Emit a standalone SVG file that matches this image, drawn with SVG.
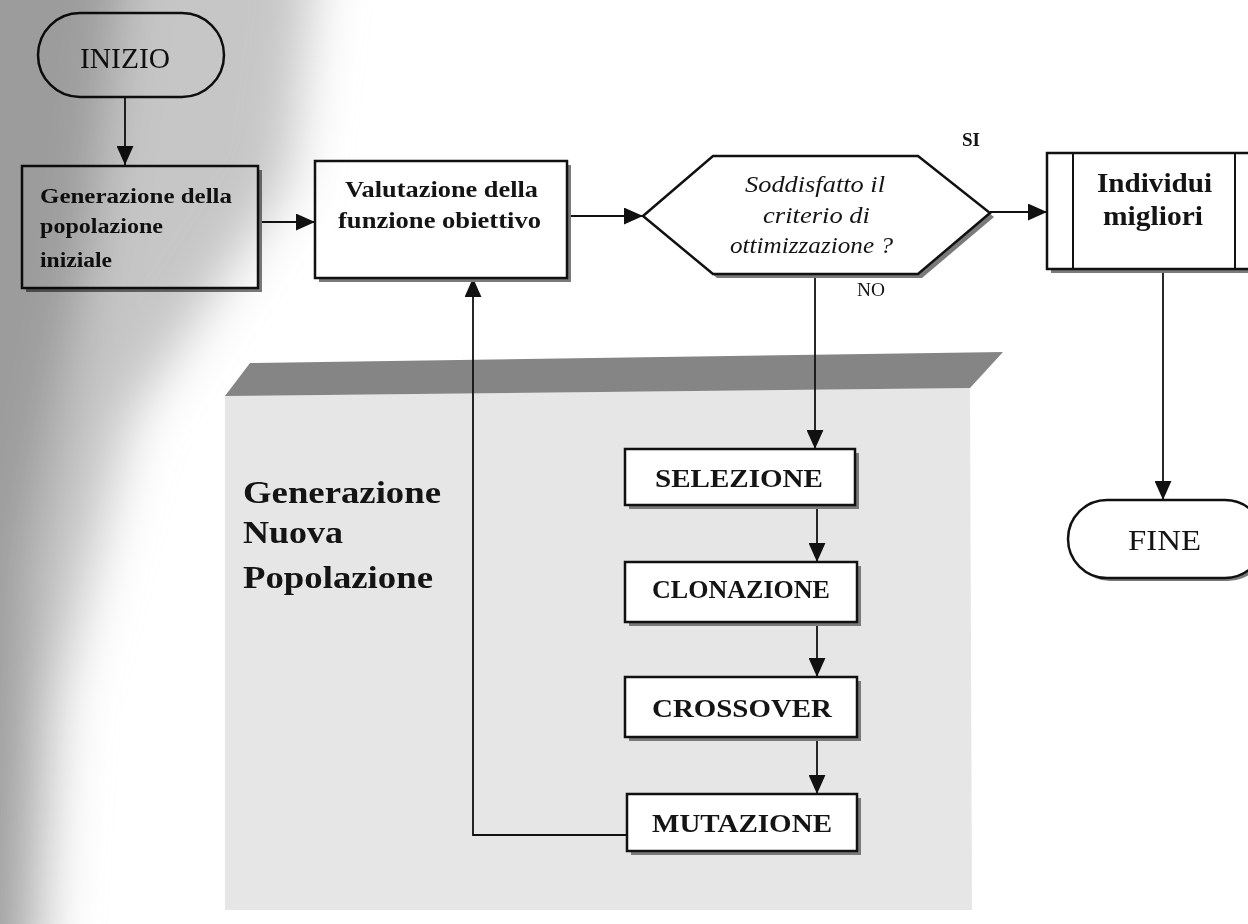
<svg xmlns="http://www.w3.org/2000/svg" width="1248" height="924" viewBox="0 0 1248 924">
  <style>
    .box { fill: #ffffff; stroke: #111111; stroke-width: 2.5; }
    .shadow { fill: #7a7a7a; }
    .conn { fill: none; stroke: #111111; stroke-width: 1.8; }
    .t { font-family: "Liberation Serif", "Times New Roman", serif; fill: #141414; }
    .b { font-weight: bold; }
    .i { font-style: italic; }
  </style>
  <defs>
    <marker id="arrow" viewBox="0 0 18 16" refX="18" refY="8" markerWidth="19" markerHeight="17" markerUnits="userSpaceOnUse" orient="auto">
      <path d="M0,0 L18,8 L0,16 z" fill="#111111"/>
    </marker>
    <filter id="soft" filterUnits="userSpaceOnUse" x="-200" y="-200" width="700" height="1350">
      <feGaussianBlur stdDeviation="26"/>
    </filter>
  </defs>

  <rect width="1248" height="924" fill="#ffffff"/>

  <!-- shaded panel: "Generazione Nuova Popolazione" -->
  <g id="panel">
    <polygon points="225,396 970,388 972,910 225,910" fill="#e6e6e6"/>
    <polygon points="250,363 1003,352 970,388 225,396" fill="#858585"/>
    <text class="t b" x="243" y="503" font-size="32" fill="#262626" textLength="198" lengthAdjust="spacingAndGlyphs">Generazione</text>
    <text class="t b" x="243" y="543" font-size="32" fill="#262626" textLength="100" lengthAdjust="spacingAndGlyphs">Nuova</text>
    <text class="t b" x="243" y="588" font-size="32" fill="#262626" textLength="190" lengthAdjust="spacingAndGlyphs">Popolazione</text>
  </g>

  <!-- connectors -->
  <g id="connectors">
    <line class="conn" x1="125" y1="98" x2="125" y2="165" marker-end="url(#arrow)"/>
    <line class="conn" x1="258" y1="222" x2="315" y2="222" marker-end="url(#arrow)"/>
    <line class="conn" x1="567" y1="216" x2="643" y2="216" marker-end="url(#arrow)"/>
    <line class="conn" x1="990" y1="212" x2="1047" y2="212" marker-end="url(#arrow)"/>
    <line class="conn" x1="1163" y1="270" x2="1163" y2="500" marker-end="url(#arrow)"/>
    <line class="conn" x1="815" y1="274" x2="815" y2="449" marker-end="url(#arrow)"/>
    <line class="conn" x1="817" y1="505" x2="817" y2="562" marker-end="url(#arrow)"/>
    <line class="conn" x1="817" y1="622" x2="817" y2="677" marker-end="url(#arrow)"/>
    <line class="conn" x1="817" y1="737" x2="817" y2="794" marker-end="url(#arrow)"/>
    <polyline class="conn" points="627,835 473,835 473,278" marker-end="url(#arrow)"/>
    <text class="t b" x="962" y="146" font-size="18" textLength="18" lengthAdjust="spacingAndGlyphs">SI</text>
    <text class="t" x="857" y="296" font-size="18" textLength="28" lengthAdjust="spacingAndGlyphs">NO</text>
  </g>

  <g id="inizio">
    <rect x="38" y="13" width="186" height="84" rx="42" class="box"/>
    <text class="t" x="80" y="68" font-size="30" textLength="90" lengthAdjust="spacingAndGlyphs">INIZIO</text>
  </g>

  <g id="generazione">
    <rect x="26" y="170" width="236" height="122" class="shadow"/>
    <rect x="22" y="166" width="236" height="122" class="box"/>
    <text class="t b" x="40" y="203" font-size="20" textLength="192" lengthAdjust="spacingAndGlyphs">Generazione della</text>
    <text class="t b" x="40" y="233" font-size="20" textLength="123" lengthAdjust="spacingAndGlyphs">popolazione</text>
    <text class="t b" x="40" y="267" font-size="20" textLength="72" lengthAdjust="spacingAndGlyphs">iniziale</text>
  </g>

  <g id="valutazione">
    <rect x="319" y="165" width="252" height="117" class="shadow"/>
    <rect x="315" y="161" width="252" height="117" class="box"/>
    <text class="t b" x="345" y="197" font-size="23" textLength="193" lengthAdjust="spacingAndGlyphs">Valutazione della</text>
    <text class="t b" x="338" y="228" font-size="23" textLength="203" lengthAdjust="spacingAndGlyphs">funzione obiettivo</text>
  </g>

  <g id="criterio">
    <polygon points="647,219 717,160 922,160 994,217 922,278 717,278" class="shadow"/>
    <polygon points="643,216 713,156 918,156 990,213 918,274 713,274" class="box" stroke-width="2"/>
    <text class="t i" x="745" y="192" font-size="24" textLength="140" lengthAdjust="spacingAndGlyphs">Soddisfatto il</text>
    <text class="t i" x="763" y="223" font-size="24" textLength="107" lengthAdjust="spacingAndGlyphs">criterio di</text>
    <text class="t i" x="730" y="253" font-size="24" textLength="163" lengthAdjust="spacingAndGlyphs">ottimizzazione ?</text>
  </g>

  <g id="individui">
    <rect x="1051" y="157" width="220" height="116" class="shadow"/>
    <rect x="1047" y="153" width="220" height="116" class="box"/>
    <line x1="1073" y1="153" x2="1073" y2="269" stroke="#111111" stroke-width="2"/>
    <line x1="1235" y1="153" x2="1235" y2="269" stroke="#111111" stroke-width="2"/>
    <text class="t b" x="1097" y="192" font-size="27" textLength="115" lengthAdjust="spacingAndGlyphs">Individui</text>
    <text class="t b" x="1103" y="225" font-size="27" textLength="100" lengthAdjust="spacingAndGlyphs">migliori</text>
  </g>

  <g id="fine">
    <rect x="1071" y="503" width="196" height="78" rx="39" class="shadow"/>
    <rect x="1068" y="500" width="196" height="78" rx="39" class="box" stroke-width="2"/>
    <text class="t" x="1128" y="550" font-size="30" textLength="73" lengthAdjust="spacingAndGlyphs">FINE</text>
  </g>

  <g id="selezione">
    <rect x="629" y="453" width="230" height="56" class="shadow"/>
    <rect x="625" y="449" width="230" height="56" class="box"/>
    <text class="t b" x="655" y="487" font-size="26" textLength="168" lengthAdjust="spacingAndGlyphs">SELEZIONE</text>
  </g>

  <g id="clonazione">
    <rect x="629" y="566" width="232" height="60" class="shadow"/>
    <rect x="625" y="562" width="232" height="60" class="box"/>
    <text class="t b" x="652" y="598" font-size="26" textLength="178" lengthAdjust="spacingAndGlyphs">CLONAZIONE</text>
  </g>

  <g id="crossover">
    <rect x="629" y="681" width="232" height="60" class="shadow"/>
    <rect x="625" y="677" width="232" height="60" class="box"/>
    <text class="t b" x="652" y="717" font-size="26" textLength="180" lengthAdjust="spacingAndGlyphs">CROSSOVER</text>
  </g>

  <g id="mutazione">
    <rect x="631" y="798" width="230" height="57" class="shadow"/>
    <rect x="627" y="794" width="230" height="57" class="box"/>
    <text class="t b" x="652" y="832" font-size="26" textLength="180" lengthAdjust="spacingAndGlyphs">MUTAZIONE</text>
  </g>

  <!-- darkening along the left margin of the page -->
  <g id="margin-shade" style="mix-blend-mode: multiply" filter="url(#soft)">
    <polygon points="-150,-150 330,-150 290,180 130,420 60,700 35,1100 -150,1100" fill="#c6c6c6"/>
    <polygon points="-150,-150 140,-150 90,260 30,560 12,1100 -150,1100" fill="#9c9c9c"/>
  </g>
</svg>
